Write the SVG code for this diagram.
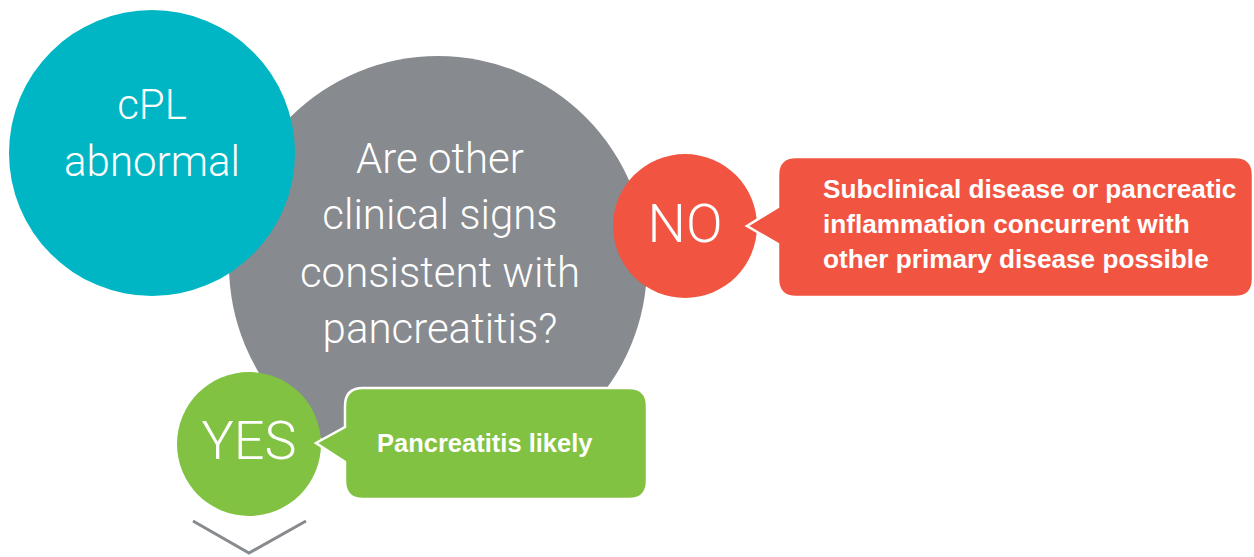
<svg xmlns="http://www.w3.org/2000/svg" width="1254" height="557" viewBox="0 0 1254 557">
  <style>
    .light { font-family: Roboto, "Liberation Sans", sans-serif; font-weight: 300; fill: #ffffff; text-anchor: middle; }
    .bold { font-family: "Liberation Sans", Arial, sans-serif; font-weight: bold; fill: #ffffff; font-size: 25.5px; }
    .callout { stroke: #ffffff; stroke-width: 2.5; stroke-linejoin: miter; }
  </style>
  <rect width="1254" height="557" fill="#ffffff"/>
  <g id="question">
    <circle cx="438" cy="265" r="209" fill="#878a8e"/>
    <text class="light" font-size="42" x="440" y="173">Are other</text>
    <text class="light" font-size="42" x="440" y="229">clinical signs</text>
    <text class="light" font-size="42" x="440" y="287">consistent with</text>
    <text class="light" font-size="42" x="440" y="343">pancreatitis?</text>
  </g>
  <g id="cpl">
    <circle cx="152" cy="153" r="143" fill="#00b6c4"/>
    <text class="light" font-size="42" x="152" y="119">cPL</text>
    <text class="light" font-size="42" x="152" y="176">abnormal</text>
  </g>
  <g id="no">
    <circle cx="685" cy="226" r="72" fill="#f15541"/>
    <text class="light" font-size="54" x="685" y="242">NO</text>
  </g>
  <g id="no-result">
    <path class="callout" fill="#f15541" d="M796,157 H1235 Q1253,157 1253,175 V279 Q1253,297 1235,297 H796 Q778,297 778,279 V244 L747,226 L778,207 V175 Q778,157 796,157 Z"/>
    <text class="bold" font-size="26" style="font-size:26.2px" x="823" y="198">Subclinical disease or pancreatic</text>
    <text class="bold" style="font-size:26.2px" x="823" y="233">inflammation concurrent with</text>
    <text class="bold" style="font-size:26.2px" x="823" y="268">other primary disease possible</text>
  </g>
  <g id="yes">
    <circle cx="249" cy="444" r="72" fill="#82c242"/>
    <text class="light" font-size="54" x="249" y="459">YES</text>
  </g>
  <g id="yes-result">
    <path class="callout" fill="#82c242" d="M363,388 H629 Q647,388 647,406 V481 Q647,499 629,499 H363 Q345,499 345,481 V462 L316,443 L345,427 V406 Q345,388 363,388 Z"/>
    <text class="bold" x="377" y="452">Pancreatitis likely</text>
  </g>
  <g id="connectors">
    <polyline points="193,521 249,553 306,521" fill="none" stroke="#878a8e" stroke-width="3"/>
  </g>
</svg>
